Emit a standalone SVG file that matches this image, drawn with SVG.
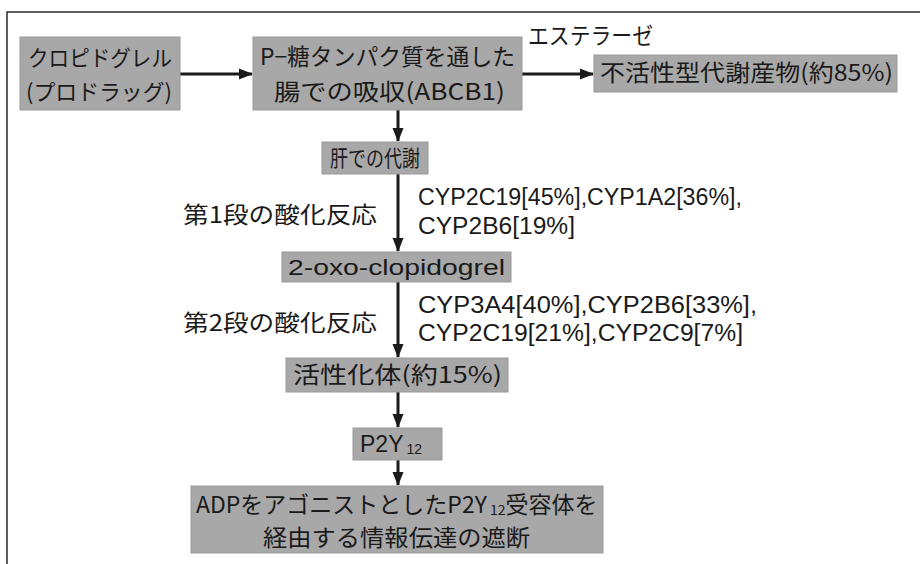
<svg xmlns="http://www.w3.org/2000/svg" width="920" height="564" viewBox="0 0 920 564">
<defs>
<style>
.box{fill:#a8a8a8;stroke:#9a9a9a;stroke-width:1}
.jp{font-family:"Noto Sans CJK JP","Liberation Sans",sans-serif;fill:#1a1a1a}
.lt{font-family:"Liberation Sans","Noto Sans CJK JP",sans-serif;fill:#1a1a1a}
.ln{stroke:#1a1a1a;stroke-width:3;fill:none}
</style>
<marker id="ah" markerUnits="userSpaceOnUse" markerWidth="14" markerHeight="14" viewBox="0 0 14 14" refX="13" refY="7" orient="auto">
<polygon points="0,1.5 14,7 0,12.5" fill="#1a1a1a"/>
</marker>
</defs>
<rect x="7" y="12" width="940" height="590" fill="none" stroke="#2a2a2a" stroke-width="1.5"/>
<g id="connectors">
<line class="ln" x1="180" y1="74" x2="252" y2="74" marker-end="url(#ah)"/>
<line class="ln" x1="522" y1="74" x2="593" y2="74" marker-end="url(#ah)"/>
<line class="ln" x1="398" y1="110" x2="398" y2="141" marker-end="url(#ah)"/>
<line class="ln" x1="398" y1="174" x2="398" y2="251" marker-end="url(#ah)"/>
<line class="ln" x1="398" y1="282" x2="398" y2="357" marker-end="url(#ah)"/>
<line class="ln" x1="398" y1="392" x2="398" y2="427" marker-end="url(#ah)"/>
<line class="ln" x1="398" y1="460" x2="398" y2="485" marker-end="url(#ah)"/>
<text class="jp" x="528" y="44" font-size="23" textLength="125" lengthAdjust="spacingAndGlyphs">エステラーゼ</text>
<text class="jp" x="183" y="223" font-size="23" textLength="194" lengthAdjust="spacingAndGlyphs">第1段の酸化反応</text>
<text class="lt" x="418" y="205" font-size="23" textLength="324" lengthAdjust="spacingAndGlyphs">CYP2C19[45%],CYP1A2[36%],</text>
<text class="lt" x="418" y="234" font-size="23" textLength="157" lengthAdjust="spacingAndGlyphs">CYP2B6[19%]</text>
<text class="jp" x="183" y="331" font-size="23" textLength="194" lengthAdjust="spacingAndGlyphs">第2段の酸化反応</text>
<text class="lt" x="418" y="313" font-size="23" textLength="339" lengthAdjust="spacingAndGlyphs">CYP3A4[40%],CYP2B6[33%],</text>
<text class="lt" x="418" y="341" font-size="23" textLength="325" lengthAdjust="spacingAndGlyphs">CYP2C19[21%],CYP2C9[7%]</text>
</g>
<g id="n1">
<rect class="box" x="20" y="37" width="160" height="73"/>
<text class="jp" x="28" y="66" font-size="22" textLength="144" lengthAdjust="spacingAndGlyphs">クロピドグレル</text>
<text class="jp" x="26" y="100" font-size="22" textLength="146" lengthAdjust="spacingAndGlyphs">(プロドラッグ)</text>
</g>
<g id="n2">
<rect class="box" x="253" y="37" width="269" height="73"/>
<text class="jp" x="260" y="65" font-size="23" textLength="255" lengthAdjust="spacingAndGlyphs">P−糖タンパク質を通した</text>
<text class="jp" x="274" y="100" font-size="23" textLength="231" lengthAdjust="spacingAndGlyphs">腸での吸収(ABCB1)</text>
</g>
<g id="n3">
<rect class="box" x="594" y="55" width="303" height="37"/>
<text class="jp" x="600" y="81" font-size="23" textLength="293" lengthAdjust="spacingAndGlyphs">不活性型代謝産物(約85%)</text>
</g>
<g id="n4">
<rect class="box" x="322" y="142" width="106" height="32"/>
<text class="jp" x="330" y="166" font-size="22" textLength="90" lengthAdjust="spacingAndGlyphs">肝での代謝</text>
</g>
<g id="n5">
<rect class="box" x="282" y="252" width="229" height="30"/>
<text class="lt" x="288" y="275" font-size="22" textLength="217" lengthAdjust="spacingAndGlyphs">2-oxo-clopidogrel</text>
</g>
<g id="n6">
<rect class="box" x="286" y="358" width="222" height="34"/>
<text class="jp" x="293" y="383" font-size="23" textLength="209" lengthAdjust="spacingAndGlyphs">活性化体(約15%)</text>
</g>
<g id="n7">
<rect class="box" x="353" y="428" width="89" height="32"/>
<text class="lt" x="360" y="452" font-size="23">P2Y<tspan font-size="14" dx="3" dy="2">12</tspan></text>
</g>
<g id="n8">
<rect class="box" x="191" y="486" width="412" height="67"/>
<text class="jp" x="196" y="513" font-size="23">ADPをアゴニストとしたP2Y<tspan font-size="14" dx="3" dy="2">12</tspan><tspan font-size="23" dy="-2">受容体を</tspan></text>
<text class="jp" x="263" y="546" font-size="23" textLength="267" lengthAdjust="spacingAndGlyphs">経由する情報伝達の遮断</text>
</g>
</svg>
